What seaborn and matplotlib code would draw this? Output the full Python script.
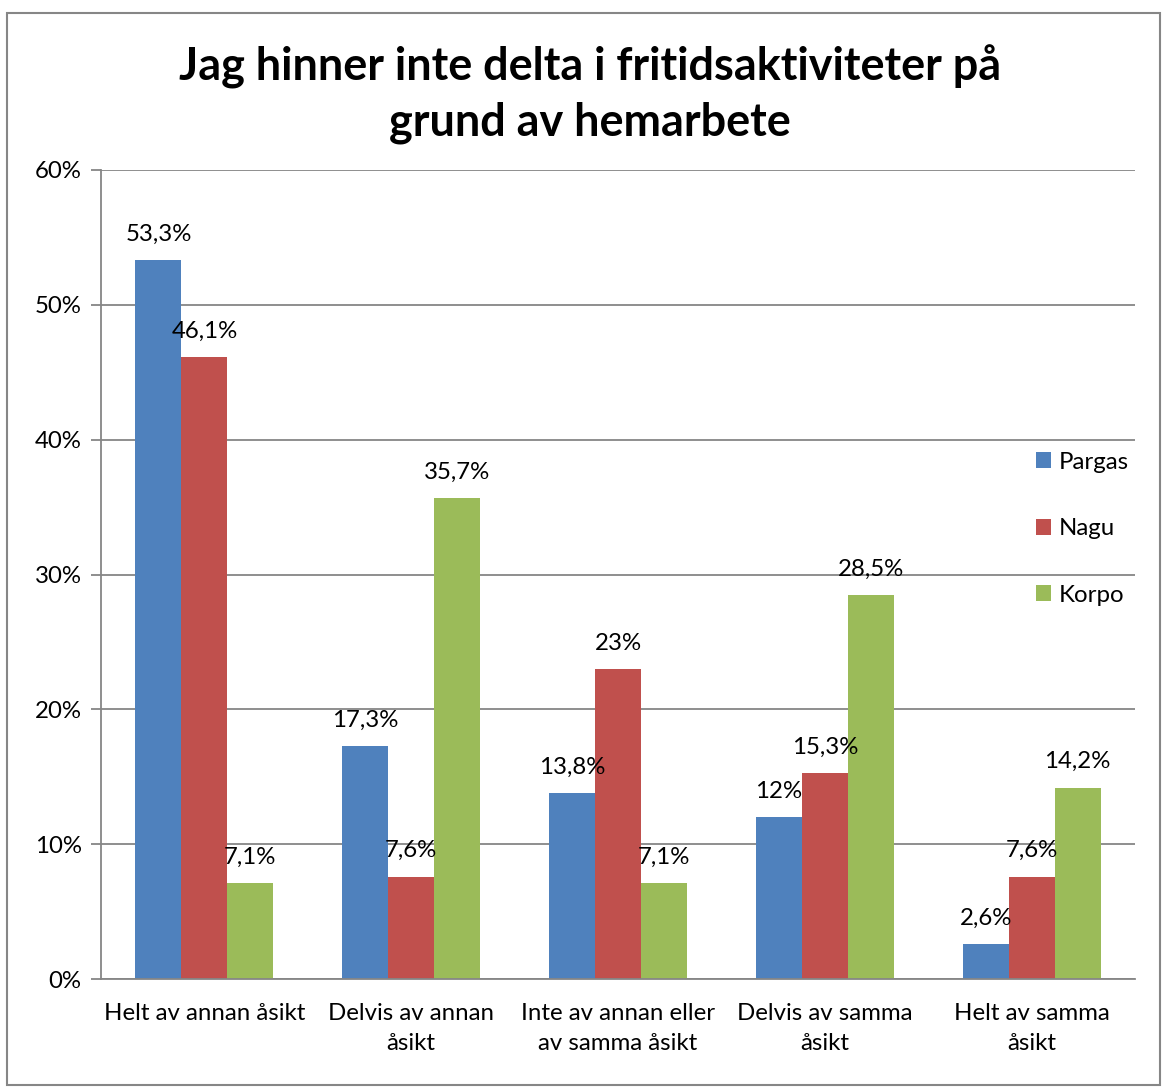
import matplotlib
matplotlib.use("Agg")
import matplotlib.pyplot as plt
import seaborn as sns
import pandas as pd
from matplotlib.patches import Rectangle

categories = ["Helt av annan åsikt", "Delvis av annan\nåsikt", "Inte av annan eller\nav samma åsikt",
              "Delvis av samma\nåsikt", "Helt av samma\nåsikt"]
series = ["Pargas", "Nagu", "Korpo"]
pargas = [53.3, 17.3, 13.8, 12.0, 2.6]
nagu = [46.1, 7.6, 23.0, 15.3, 7.6]
korpo = [7.1, 35.7, 7.1, 28.5, 14.2]
yticks = [0, 10, 20, 30, 40, 50, 60]
colors = ["#4F81BD", "#C0504D", "#9BBB59"]
title = "Jag hinner inte delta i fritidsaktiviteter på\ngrund av hemarbete"

rows = []
for s, vals in zip(series, [pargas, nagu, korpo]):
    for c, v in zip(categories, vals):
        rows.append({"cat": c, "series": s, "value": v})
df = pd.DataFrame(rows)

sns.set_style("white")
plt.rcParams['font.family'] = ['Lato', 'DejaVu Sans']

FS = 17.3

fig = plt.figure(figsize=(11.63, 10.88), dpi=100)
ax = fig.add_axes([101/1163, 1-979/1088, 1034/1163, 809/1088])

sns.barplot(data=df, x="cat", y="value", hue="series", order=categories, hue_order=series,
            palette=colors, width=0.667, gap=0, saturation=1, ax=ax, linewidth=0, errorbar=None)

def fmt(v):
    if abs(v - round(v)) < 1e-9:
        return f"{int(round(v))}%"
    return f"{v:.1f}".replace(".", ",") + "%"

for cont in ax.containers:
    ax.bar_label(cont, labels=[fmt(b.get_height()) for b in cont], padding=11, fontsize=FS, color="#000000")

ax.set_ylim(0, 60)
ax.set_xlim(-0.5, len(categories) - 0.5)
ax.set_yticks(yticks)
ax.set_yticklabels([f"{t}%" for t in yticks], fontsize=FS)
ax.set_xticks(range(len(categories)))
ax.set_xticklabels(categories, fontsize=FS, linespacing=1.58)
ax.set_xticks([i - 0.5 for i in range(len(categories) + 1)], minor=True)
ax.tick_params(axis="x", which="major", length=0, pad=17, colors="#000000")
ax.tick_params(axis="x", which="minor", length=7, width=1.3, color="#868686", direction="out")
ax.tick_params(axis="y", length=7, width=1.3, color="#868686", labelcolor="#000000", direction="out", left=True, pad=7)
ax.set_xlabel("")
ax.set_ylabel("")

ax.yaxis.grid(True, color="#868686", linewidth=1.3)
ax.set_axisbelow(True)
for sp in ["top", "right"]:
    ax.spines[sp].set_visible(False)
for sp in ["left", "bottom"]:
    ax.spines[sp].set_color("#868686")
    ax.spines[sp].set_linewidth(1.3)

leg = ax.legend(loc="upper left", bbox_to_anchor=(1026/1163, 1-442/1088), bbox_transform=fig.transFigure,
                frameon=False, fontsize=FS, handlelength=0.65, handleheight=0.65, handletextpad=0.3,
                labelspacing=1.9, borderaxespad=0)
for t in leg.get_texts():
    t.set_color("#000000")

fig.text(590/1163, 1-94/1088, title, ha="center", va="center", fontsize=32.4, fontweight="bold",
         linespacing=1.37, color="#000000")

fig.patches.append(Rectangle((7/1163, 3/1088), 1153/1163, 1072/1088, transform=fig.transFigure,
                             fill=False, edgecolor="#868686", linewidth=1.5))

fig.savefig("out.png", dpi=100)
